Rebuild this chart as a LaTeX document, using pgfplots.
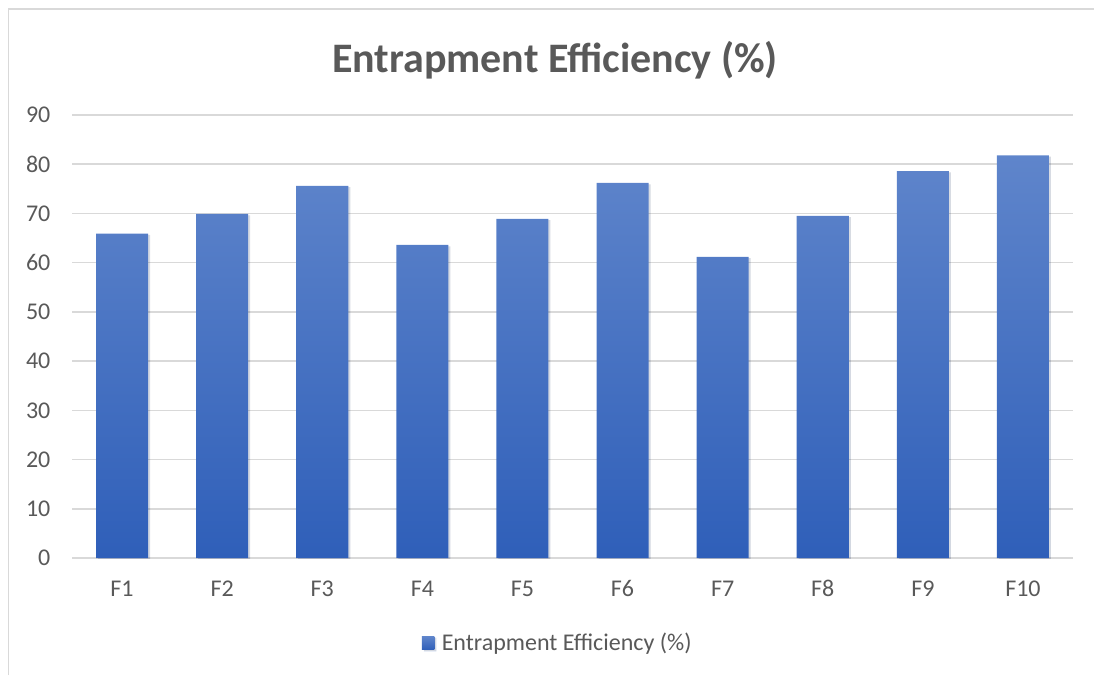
\documentclass[border=0pt]{standalone}
\usepackage{pgfplots}
\pgfplotsset{compat=1.18}
\usepackage{fontspec}
\setmainfont{Carlito}

\definecolor{txt}{HTML}{595959}
\definecolor{gridc}{HTML}{D9D9D9}
\definecolor{bartop}{HTML}{5F85CB}
\definecolor{barbot}{HTML}{2F5FB9}

\begin{document}
\begin{tikzpicture}[x=0.75pt,y=0.75pt]
  % canvas and chart frame
  \path[use as bounding box] (0,0) rectangle (1094,675);
  \draw[gridc, line width=1.2pt] (8.5,0) -- (8.5,666) -- (1094,666);
  \node[font=\fontsize{31.5}{36}\selectfont\bfseries, text=txt] at (555,615)
    {Entrapment Efficiency (\%)};
  \begin{axis}[
    at={(54pt,87.75pt)}, anchor=south west,
    scale only axis,
    width=750.75pt, height=332.25pt,
    xmin=0.5, xmax=10.5,
    ymin=0, ymax=90,
    ytick={0,10,...,90},
    xtick={1,...,10},
    xticklabels={F1,F2,F3,F4,F5,F6,F7,F8,F9,F10},
    major tick length=0pt,
    axis line style={draw=none},
    ymajorgrids,
    grid style={gridc, line width=1.1pt},
    tick label style={font=\fontsize{18}{21}\selectfont, text=txt},
    yticklabel style={inner sep=0pt, xshift=-16pt},
    xticklabel style={inner sep=0pt, anchor=base, yshift=-29pt},
    /pgf/number format/assume math mode=true,
    legend style={at={(0.4855,-0.192)}, anchor=center, draw=none,
      font=\fontsize{18}{21}\selectfont, text=txt},
    legend image code/.code={
      \fill[top color=bartop, bottom color=barbot, draw=none]
        (0pt,-5pt) rectangle (9.5pt,5pt);
      \path (13pt,0pt);},
  ]
    \addplot[ybar, bar width=0.52, draw=none,
      top color=bartop, bottom color=barbot,
      preaction={fill=black, fill opacity=0.10,
        transform canvas={xshift=1.5pt, yshift=-1pt}}]
      coordinates {
        (1,65.9) (2,69.9) (3,75.6) (4,63.6) (5,68.9)
        (6,76.2) (7,61.2) (8,69.5) (9,78.6) (10,81.8)
      };
    \addlegendentry{Entrapment Efficiency (\%)}
  \end{axis}
\end{tikzpicture}
\end{document}
